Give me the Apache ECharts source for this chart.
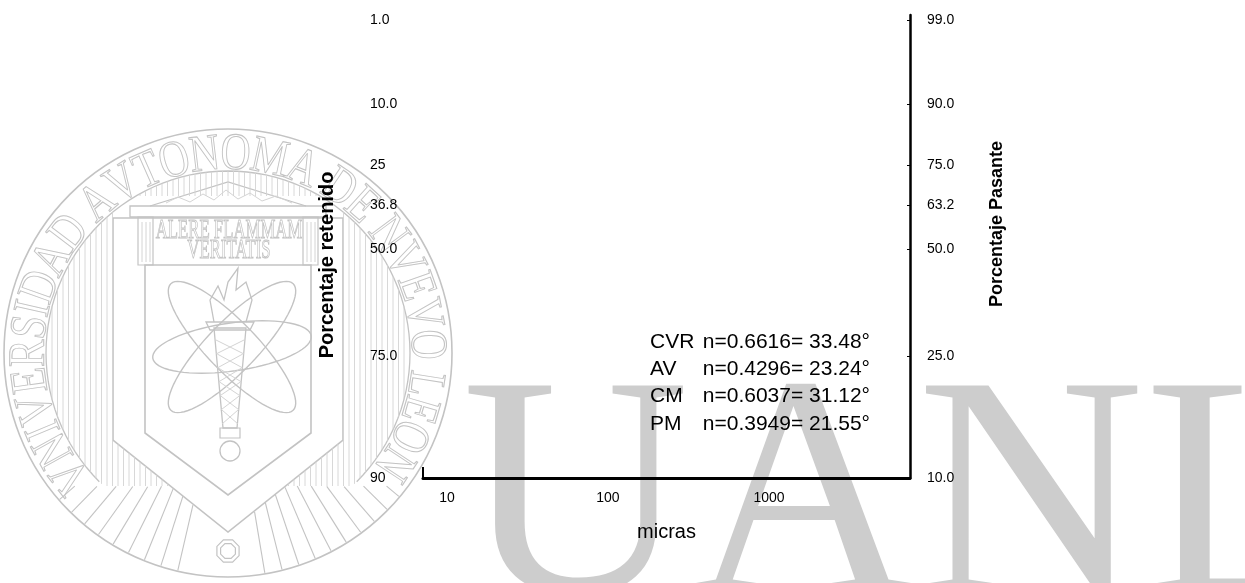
<!DOCTYPE html>
<html>
<head>
<meta charset="utf-8">
<script src="https://cdn.jsdelivr.net/npm/echarts@6/dist/echarts.min.js"></script>
<style>
  html, body { margin: 0; padding: 0; background: #fff; }
  #chart { width: 1245px; height: 583px; }
</style>
</head>
<body>
<div id="chart"></div>
<script>
// Rosin-Rammler paper: x = log(micras), y = ln(ln(100 / retenido))
const micrasTicks = [10, 100, 1000];
const micrasRange = [7.1, 7516];
const retenidoValues = [1, 10, 25, 36.8, 50, 75, 90];
const retenidoLabels = ['1.0', '10.0', '25', '36.8', '50.0', '75.0', '90'];
const pasanteLabels = ['99.0', '90.0', '75.0', '63.2', '50.0', '25.0', '10.0'];
const retenidoRange = [90.02, 0.826];

const fitNames = ['CVR', 'AV', 'CM', 'PM'];
const fitN = ['0.6616', '0.4296', '0.6037', '0.3949'];
const fitAngle = ['33.48', '23.24', '31.12', '21.55'];

// watermark texts
const sealText = 'VNIVERSIDAD AVTONOMA DE NVEVO LEON';
const mottoLines = ['ALERE FLAMMAM', 'VERITATIS'];
const bigText = 'UANL';

const rr = p => Math.log(Math.log(100 / p));
const font = '"Liberation Sans", Arial, sans-serif';
const serif = '"Liberation Serif", "Times New Roman", serif';

// ---------- watermark (decoration only) ----------
const SX = 228, SY = 353, R_OUT = 224, R_IN = 182;
const grey = '#c3c3c3', greyLight = '#d4d4d4';
const wm = [];
function line(x1, y1, x2, y2, c, w) {
  wm.push({ type: 'line', silent: true, z: -1, shape: { x1, y1, x2, y2 },
    style: { stroke: c || grey, lineWidth: w || 1 } });
}
function poly(points, closed, c, w) {
  wm.push({ type: closed ? 'polygon' : 'polyline', silent: true, z: -1, shape: { points },
    style: { fill: 'none', stroke: c || grey, lineWidth: w || 1.4 } });
}
function ellipse(cx, cy, a, b, deg) {
  const pts = [], f = deg * Math.PI / 180;
  for (let i = 0; i < 72; i++) {
    const t = i / 72 * Math.PI * 2, px = a * Math.cos(t), py = b * Math.sin(t);
    pts.push([cx + px * Math.cos(f) - py * Math.sin(f), cy + px * Math.sin(f) + py * Math.cos(f)]);
  }
  poly(pts, true, grey, 1.4);
}

// big letters
wm.push({ type: 'text', silent: true, z: -1, x: 462, y: 509,
  style: { text: bigText, font: '315px ' + serif, fill: '#cdcdcd', align: 'left', verticalAlign: 'middle' } });

// circles
wm.push({ type: 'circle', silent: true, z: -1, shape: { cx: SX, cy: SY, r: R_OUT },
  style: { fill: 'none', stroke: grey, lineWidth: 1.6 } });
const inner = [];
for (let i = 0; i <= 360; i += 3) {
  const t = i * Math.PI / 180, px = SX + R_IN * Math.cos(t), py = SY + R_IN * Math.sin(t);
  inner.push(py < 488 ? [px, py] : null);
}
let seg = [];
inner.forEach(p => { if (p) seg.push(p); else { if (seg.length > 1) poly(seg, false, grey, 1.3); seg = []; } });
if (seg.length > 1) poly(seg, false, grey, 1.3);

// seal text on the ring
const ctx = document.createElement('canvas').getContext('2d');
ctx.font = '52px ' + serif;
const widths = [...sealText].map(ch => ctx.measureText(ch).width);
const centers = [];
let acc = 0;
widths.forEach(w => { centers.push(acc + w / 2); acc += w; });
const a0 = -128, a1 = 123.5;
[...sealText].forEach((ch, i) => {
  if (ch === ' ') return;
  const a = a0 + (centers[i] - centers[0]) / (centers[centers.length - 1] - centers[0]) * (a1 - a0);
  const t = a * Math.PI / 180, r = 198;
  wm.push({ type: 'text', silent: true, z: -1, x: SX + r * Math.sin(t), y: SY - r * Math.cos(t),
    rotation: -t, scaleX: 0.8,
    style: { text: ch, font: '52px ' + serif, fill: 'none', stroke: grey, lineWidth: 1.1,
      align: 'center', verticalAlign: 'middle' } });
});

// shield
const shieldOuter = [[113, 218], [343, 218], [343, 440], [228, 532], [113, 440]];
const shieldInner = [[145, 265], [311, 265], [311, 433], [228, 495], [145, 433]];
poly(shieldOuter, true, grey, 1.6);
poly(shieldInner, true, grey, 1.6);
function inside(pt, vs) {
  let ins = false;
  for (let i = 0, j = vs.length - 1; i < vs.length; j = i++) {
    const xi = vs[i][0], yi = vs[i][1], xj = vs[j][0], yj = vs[j][1];
    if (((yi > pt[1]) !== (yj > pt[1])) && (pt[0] < (xj - xi) * (pt[1] - yi) / (yj - yi) + xi)) ins = !ins;
  }
  return ins;
}

// temple front
poly([[130, 206], [326, 206], [326, 217], [130, 217]], true, grey, 1.3);
poly([[150, 206], [228, 182], [306, 206]], false, grey, 1.3);
poly([[166, 203], [178, 197], [190, 202], [203, 194], [214, 200], [226, 190], [238, 199], [250, 193], [262, 201], [276, 196], [292, 203]], false, greyLight, 1);
poly([[138, 217], [153, 217], [153, 265], [138, 265]], true, grey, 1.2);
poly([[303, 217], [318, 217], [318, 265], [303, 265]], true, grey, 1.2);
line(142, 222, 142, 262, greyLight); line(146, 222, 146, 262, greyLight); line(150, 222, 150, 262, greyLight);
line(307, 222, 307, 262, greyLight); line(311, 222, 311, 262, greyLight); line(315, 222, 315, 262, greyLight);
mottoLines.forEach((s, i) => {
  wm.push({ type: 'text', silent: true, z: -1, x: 229, y: 231 + i * 20, scaleX: 0.62,
    style: { text: s, font: '27px ' + serif, fill: 'none', stroke: grey, lineWidth: 1,
      align: 'center', verticalAlign: 'middle' } });
});

// vertical hatching inside the ring
for (let x = SX - R_IN + 6; x < SX + R_IN - 4; x += 5.5) {
  const h = Math.sqrt(R_IN * R_IN - (x - SX) * (x - SX));
  const top = SY - h, bot = Math.min(SY + h, 486);
  if (x < 113 || x > 343) { line(x, top, x, bot, greyLight, 0.9); continue; }
  if (top < 196) line(x, top, x, 196, greyLight, 0.9);
  const edge = x <= 228 ? 440 + (x - 113) * 92 / 115 : 440 + (343 - x) * 92 / 115;
  if (edge < bot) line(x, edge, x, bot, greyLight, 0.9);
}
// radial strokes below the shield
for (let a = 130; a <= 230; a += 4.5) {
  if (Math.abs(a - 180) < 9) continue;
  const t = a * Math.PI / 180;
  let r1 = null;
  for (let r = 100; r < R_OUT; r += 1) {
    const p = [SX + r * Math.sin(t), SY - r * Math.cos(t)];
    if (p[1] >= 486 && !inside(p, shieldOuter)) { r1 = r; break; }
  }
  if (r1 !== null) line(SX + r1 * Math.sin(t), SY - r1 * Math.cos(t),
    SX + (R_OUT - 1) * Math.sin(t), SY - (R_OUT - 1) * Math.cos(t), grey, 1.1);
}
[12, 8].forEach(r => {
  const pts = [];
  for (let i = 0; i < 8; i++) {
    const t = (i + 0.5) / 8 * Math.PI * 2;
    pts.push([228 + r * Math.cos(t), 551 + r * Math.sin(t)]);
  }
  poly(pts, true, grey, 1.2);
});

// atom and torch
ellipse(232, 347, 80, 24, -8);
ellipse(232, 347, 88, 25, 46);
ellipse(232, 347, 88, 25, -46);
poly([[214, 328], [246, 328], [237, 428], [223, 428]], true, grey, 1.3);
for (let k = 0; k < 6; k++) {
  line(216 + k * 1.2, 340 + k * 14, 244 - k * 1.2, 354 + k * 14, greyLight);
  line(244 - k * 1.2, 340 + k * 14, 216 + k * 1.2, 354 + k * 14, greyLight);
}
poly([[220, 428], [240, 428], [240, 438], [220, 438]], true, grey, 1.2);
wm.push({ type: 'circle', silent: true, z: -1, shape: { cx: 230, cy: 451, r: 10 },
  style: { fill: 'none', stroke: grey, lineWidth: 1.3 } });
poly([[206, 322], [254, 322], [250, 330], [210, 330]], true, grey, 1.3);
poly([[214, 322], [210, 300], [218, 286], [224, 300], [228, 282], [238, 268], [236, 290], [246, 282], [252, 300], [246, 322]], false, grey, 1.3);

// ---------- annotations ----------
const notes = [];
fitNames.forEach((nm, i) => {
  const y = 342 + i * 27.3;
  notes.push({ type: 'text', z: 10, x: 650, y,
    style: { text: nm, font: '21px ' + font, fill: '#000', align: 'left', verticalAlign: 'middle' } });
  notes.push({ type: 'text', z: 10, x: 870, y,
    style: { text: 'n=' + fitN[i] + '= ' + fitAngle[i] + '°', font: '21px ' + font, fill: '#000',
      align: 'right', verticalAlign: 'middle' } });
});
notes.push({ type: 'line', z: 10, shape: { x1: 423, y1: 467, x2: 423, y2: 478 },
  style: { stroke: '#000', lineWidth: 2 } });

const yVals = retenidoValues.map(rr);
const labelFor = (arr) => v => {
  const i = yVals.findIndex(x => Math.abs(x - v) < 1e-6);
  return i < 0 ? '' : arr[i];
};

const yBase = {
  type: 'value',
  min: rr(retenidoRange[0]),
  max: rr(retenidoRange[1]),
  splitLine: { show: false },
  nameLocation: 'middle',
  nameRotate: 90
};

const option = {
  animation: false,
  backgroundColor: '#fff',
  grid: { left: 423, right: 335, top: 15, bottom: 105, outerBoundsMode: 'none' },
  xAxis: {
    type: 'value',
    min: Math.log10(micrasRange[0]),
    max: Math.log10(micrasRange[1]),
    axisLine: { onZero: false, lineStyle: { color: '#000', width: 3 } },
    axisTick: { show: false },
    splitLine: { show: false },
    axisLabel: {
      customValues: micrasTicks.map(Math.log10),
      formatter: v => String(Math.round(Math.pow(10, v))),
      color: '#000', fontSize: 14, fontFamily: font, margin: 13
    },
    name: 'micras',
    nameLocation: 'middle',
    nameGap: 44,
    nameTextStyle: { color: '#000', fontSize: 20, fontFamily: font }
  },
  yAxis: [
    Object.assign({}, yBase, {
      position: 'left',
      axisLine: { show: false, onZero: false },
      axisTick: { show: false },
      axisLabel: {
        customValues: yVals, formatter: labelFor(retenidoLabels),
        color: '#000', fontSize: 14, fontFamily: font, align: 'left', margin: 53
      },
      name: 'Porcentaje retenido',
      nameGap: 86,
      nameTextStyle: { color: '#000', fontSize: 20, fontWeight: 'bold', fontFamily: font, padding: [0, 37, 0, 0] }
    }),
    Object.assign({}, yBase, {
      position: 'right',
      axisLine: { show: true, onZero: false, lineStyle: { color: '#000', width: 2.5 } },
      axisTick: { show: true, inside: true, length: 3, customValues: yVals, lineStyle: { color: '#000' } },
      axisLabel: {
        customValues: yVals, formatter: labelFor(pasanteLabels),
        color: '#000', fontSize: 14, fontFamily: font, align: 'left', margin: 17
      },
      name: 'Porcentaje Pasante',
      nameGap: 78,
      nameTextStyle: { color: '#000', fontSize: 18, fontWeight: 'bold', fontFamily: font, padding: [0, 0, 0, 45] }
    })
  ],
  series: [
    { type: 'scatter', xAxisIndex: 0, yAxisIndex: 0, data: [] },
    { type: 'scatter', xAxisIndex: 0, yAxisIndex: 1, data: [] }
  ],
  graphic: { elements: wm.concat(notes) }
};

const chart = echarts.init(document.getElementById('chart'));
chart.setOption(option);
window.addEventListener('resize', () => chart.resize());
</script>
</body>
</html>
